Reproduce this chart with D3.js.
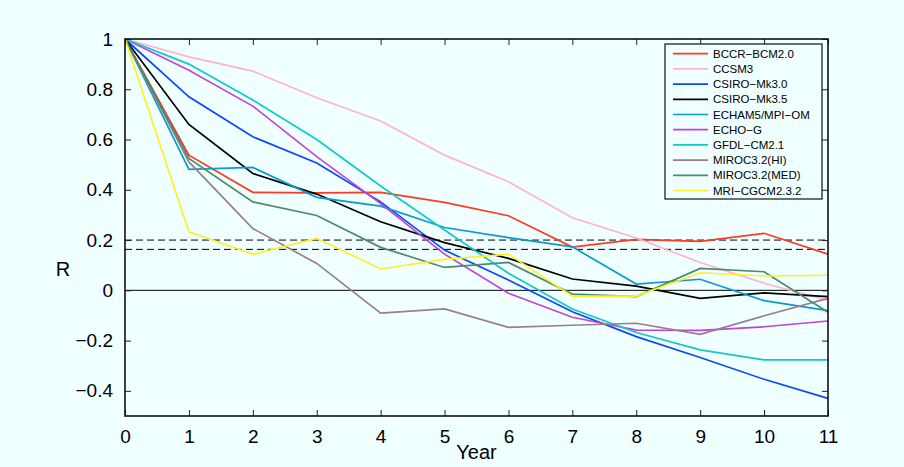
<!DOCTYPE html>
<html>
<head>
<meta charset="utf-8">
<script src="https://cdn.jsdelivr.net/npm/d3@7"></script>
<style>
  html, body { margin: 0; padding: 0; background: #f0ffff; }
  svg { display: block; font-family: "Liberation Sans", Arial, Helvetica, sans-serif; }
</style>
</head>
<body>
<svg id="chart" width="904" height="467"></svg>
<script>
// Lag correlation R by year for each model
const years = [0, 1, 2, 3, 4, 5, 6, 7, 8, 9, 10, 11];
const models = ["BCCR\u2212BCM2.0", "CCSM3", "CSIRO\u2212Mk3.0", "CSIRO\u2212Mk3.5", "ECHAM5/MPI\u2212OM",
  "ECHO\u2212G", "GFDL\u2212CM2.1", "MIROC3.2(HI)", "MIROC3.2(MED)", "MRI\u2212CGCM2.3.2"];
const colors = ["#ff3a22", "#ffb3cf", "#0a48ff", "#000000", "#0a9ad0",
  "#c244d0", "#12c8c8", "#9a7e8e", "#4c8a6c", "#fff026"];

const bccr   = [1, 0.538, 0.390, 0.388, 0.390, 0.350, 0.297, 0.172, 0.203, 0.195, 0.227, 0.144];
const ccsm3  = [1, 0.929, 0.872, 0.766, 0.674, 0.538, 0.432, 0.289, 0.208, 0.111, 0.028, -0.040];
const mk30   = [1, 0.770, 0.611, 0.507, 0.352, 0.160, 0.041, -0.085, -0.184, -0.267, -0.354, -0.430];
const mk35   = [1, 0.660, 0.465, 0.383, 0.273, 0.190, 0.127, 0.045, 0.017, -0.032, -0.010, -0.025];
const echam5 = [1, 0.481, 0.489, 0.370, 0.335, 0.250, 0.210, 0.173, 0.025, 0.044, -0.041, -0.081];
const echog  = [1, 0.876, 0.733, 0.532, 0.345, 0.144, -0.012, -0.107, -0.158, -0.159, -0.145, -0.122];
const gfdl   = [1, 0.900, 0.757, 0.600, 0.415, 0.240, 0.068, -0.074, -0.168, -0.237, -0.277, -0.277];
const mirocH = [1, 0.511, 0.246, 0.107, -0.091, -0.074, -0.147, -0.139, -0.131, -0.175, -0.101, -0.032];
const mirocM = [1, 0.525, 0.352, 0.298, 0.171, 0.091, 0.111, -0.015, -0.025, 0.087, 0.074, -0.087];
const mri    = [1, 0.233, 0.143, 0.207, 0.085, 0.123, 0.144, -0.023, -0.023, 0.070, 0.057, 0.060];
const seriesValues = [bccr, ccsm3, mk30, mk35, echam5, echog, gfdl, mirocH, mirocM, mri];

// Significance thresholds (dashed) and zero reference
const thresholds = [0.2, 0.163];
const xTicks = d3.range(0, 12);
const yTicks = [-0.4, -0.2, 0, 0.2, 0.4, 0.6, 0.8, 1];

const svg = d3.select("#chart");
const m = { left: 125, right: 76, top: 39, bottom: 51 };
const W = 904, H = 467;
const x = d3.scaleLinear().domain([0, 11]).range([m.left, W - m.right]);
const y = d3.scaleLinear().domain([-0.5, 1]).range([H - m.bottom, m.top]);

svg.append("rect").attr("width", W).attr("height", H).attr("fill", "#f0ffff");

const fmtY = d => d === 0 ? "0" : d === 1 ? "1" : (d < 0 ? "\u2212" : "") + Math.abs(d).toFixed(1);

// Reference lines
svg.append("line").attr("x1", x(0)).attr("x2", x(11)).attr("y1", y(0)).attr("y2", y(0))
  .attr("stroke", "#000").attr("stroke-width", 1);
svg.selectAll(".thr").data(thresholds).join("line")
  .attr("x1", x(0)).attr("x2", x(11)).attr("y1", d => y(d)).attr("y2", d => y(d))
  .attr("stroke", "#000").attr("stroke-width", 1).attr("stroke-dasharray", "7,4");

// Model lines
const line = d3.line().x((d, i) => x(years[i])).y(d => y(d));
svg.selectAll(".series").data(seriesValues).join("path")
  .attr("d", line).attr("fill", "none")
  .attr("stroke", (d, i) => colors[i]).attr("stroke-width", 1.7)
  .attr("stroke-linejoin", "miter");

// Axes with inward ticks, mirrored on top and right
const axStyle = g => {
  g.select(".domain").remove();
  g.selectAll(".tick line").attr("stroke", "#222").attr("stroke-width", 1);
  g.selectAll("text").attr("font-size", 19).attr("fill", "#000")
    .attr("font-family", "'Liberation Sans', Arial, sans-serif");
};
svg.append("g").attr("transform", `translate(0,${y(-0.5)})`)
  .call(d3.axisBottom(x).tickValues(xTicks).tickFormat(d3.format("d")).tickSizeInner(-6).tickPadding(14))
  .call(axStyle);
svg.append("g").attr("transform", `translate(0,${y(1)})`)
  .call(d3.axisTop(x).tickValues(xTicks).tickFormat("").tickSizeInner(-6))
  .call(axStyle);
svg.append("g").attr("transform", `translate(${x(0)},0)`)
  .call(d3.axisLeft(y).tickValues(yTicks).tickFormat(fmtY).tickSizeInner(-6).tickPadding(12))
  .call(axStyle);
svg.append("g").attr("transform", `translate(${x(11)},0)`)
  .call(d3.axisRight(y).tickValues(yTicks).tickFormat("").tickSizeInner(-6))
  .call(axStyle);

// Frame
svg.append("rect").attr("x", x(0)).attr("y", y(1))
  .attr("width", x(11) - x(0)).attr("height", y(-0.5) - y(1))
  .attr("fill", "none").attr("stroke", "#111").attr("stroke-width", 1.6);

// Axis titles
svg.append("text").attr("x", (x(0) + x(11)) / 2).attr("y", 459)
  .attr("text-anchor", "middle").attr("font-size", 20).text("Year");
svg.append("text").attr("x", 63).attr("y", 276)
  .attr("text-anchor", "middle").attr("font-size", 20).text("R");

// Legend
const lg = svg.append("g").attr("transform", "translate(665,44)");
lg.append("rect").attr("width", 157).attr("height", 155)
  .attr("fill", "#f0ffff").attr("stroke", "#111").attr("stroke-width", 1.2);
const items = lg.selectAll(".item").data(models).join("g")
  .attr("transform", (d, i) => `translate(0,${9.7 + i * 15.2})`);
items.append("line").attr("x1", 8).attr("x2", 43)
  .attr("stroke", (d, i) => colors[i]).attr("stroke-width", 1.7);
items.append("text").attr("x", 48).attr("y", 4).attr("font-size", 11.5).text(d => d);
</script>
</body>
</html>
